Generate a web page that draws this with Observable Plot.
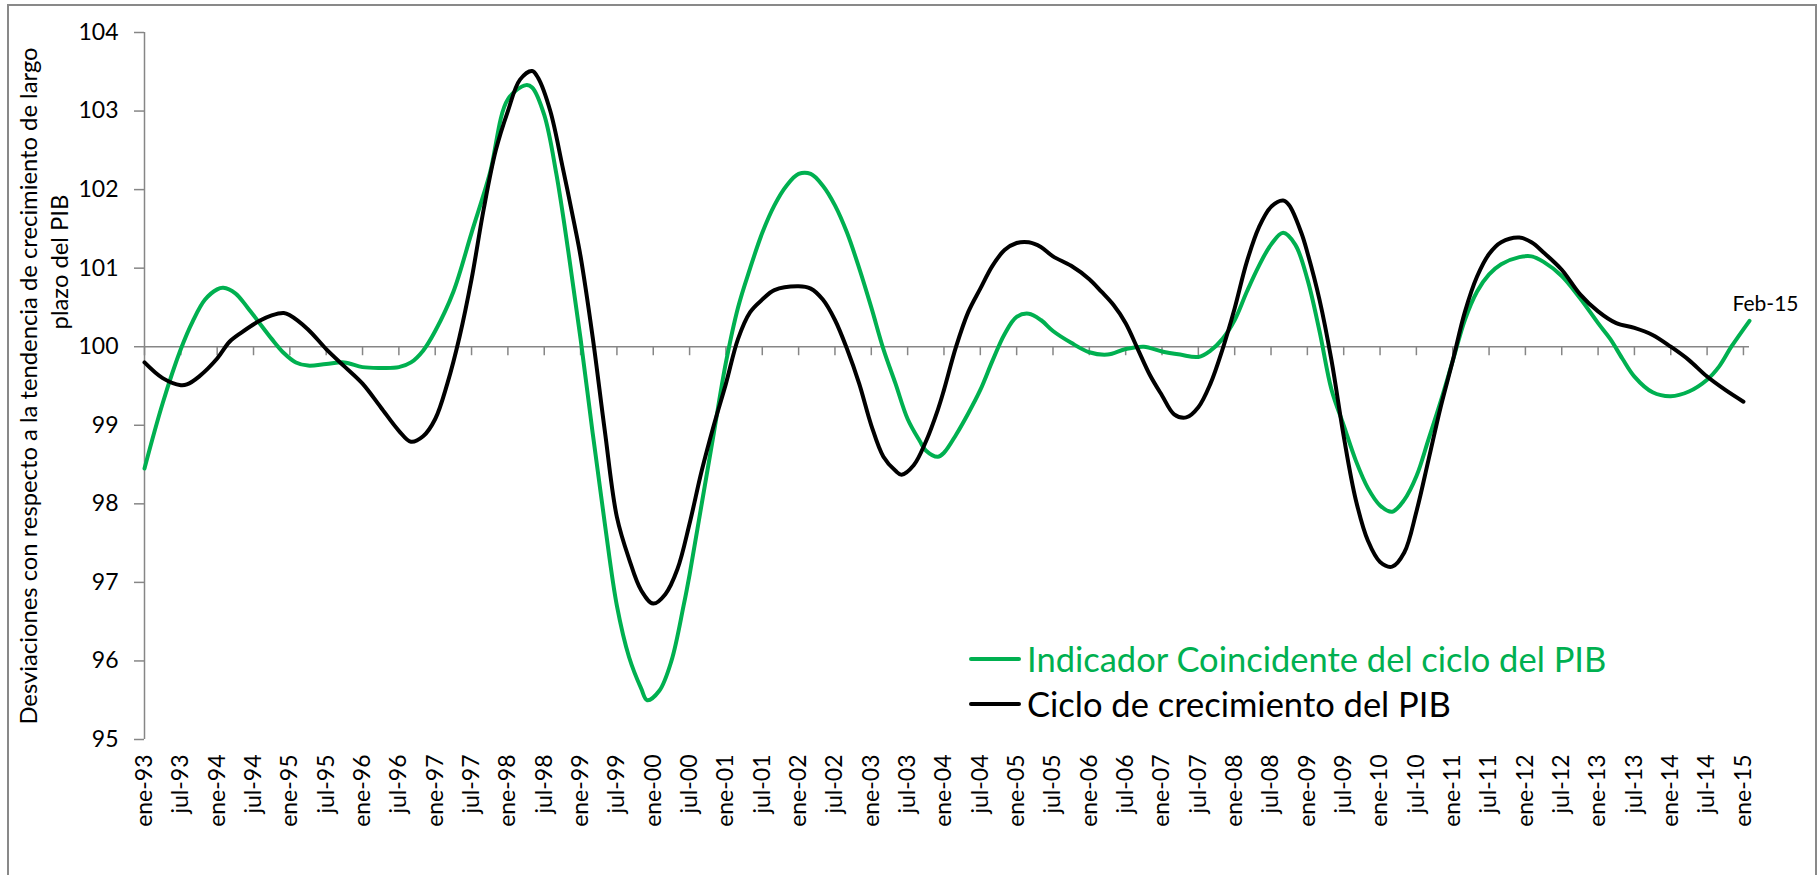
<!DOCTYPE html>
<html>
<head>
<meta charset="utf-8">
<script src="https://cdn.jsdelivr.net/npm/d3@7"></script>
<script src="https://cdn.jsdelivr.net/npm/@observablehq/plot@0.6"></script>
<style>
  html, body { margin: 0; padding: 0; background: #fff; }
  #wrap { position: relative; width: 1819px; height: 875px; overflow: hidden; font-family: Lato, "Open Sans", sans-serif; }
  #frame { position: absolute; left: 7px; top: 4px; width: 1810px; height: 900px; border: 2px solid #898989; box-sizing: border-box; pointer-events: none; }
  #chart { position: absolute; left: 0; top: 0; }
  .ytitle { position: absolute; white-space: nowrap; transform: translate(-50%, -50%) rotate(-90deg); font-size: 23.8px; color: #000; line-height: 1; }
  .legline { position: absolute; height: 4px; border-radius: 2px; }
  .legtext { position: absolute; white-space: nowrap; transform: translateY(-50%); font-size: 34.5px; line-height: 1; }
</style>
</head>
<body>
<div id="wrap">
  <div id="chart"></div>
  <div id="frame"></div>
</div>
<script>
// Months counted from ene-93 (0 = January 1993)
const greenMonths = [0,3,6,8,10,12,13,15,17,19,21,23,25,27,30,33,36,39,42,44,46,48,51,54,57,60,63,64,66,68,70,72,74,76,78,80,82,83,85,87,89,90,92,94,96,98,100,102,104,106,108,110,112,114,116,118,120,122,124,126,128,129,131,132,134,136,138,140,142,144,146,148,150,153,156,159,162,165,168,171,174,176,178,180,182,184,186,188,190,192,194,196,198,200,202,204,206,208,210,212,214,216,218,220,222,224,227,229,231,234,237,240,242,244,246,249,252,255,258,260,262,265];
const greenValues = [98.45,99.28,99.97,100.33,100.6,100.73,100.75,100.68,100.5,100.3,100.1,99.92,99.8,99.76,99.78,99.8,99.74,99.73,99.74,99.8,99.95,100.2,100.7,101.45,102.2,103.15,103.33,103.3,102.95,102.2,101.2,100.1,98.9,97.75,96.7,96.05,95.65,95.5,95.62,96.0,96.7,97.1,98.0,98.9,99.8,100.5,101.0,101.45,101.8,102.05,102.2,102.2,102.05,101.8,101.45,101.0,100.5,99.97,99.53,99.08,98.8,98.68,98.6,98.65,98.88,99.15,99.45,99.82,100.16,100.38,100.42,100.34,100.2,100.05,99.93,99.9,99.97,100.0,99.94,99.9,99.87,99.95,100.1,100.34,100.7,101.03,101.3,101.45,101.3,100.86,100.2,99.45,99.0,98.55,98.2,97.98,97.9,98.05,98.35,98.82,99.3,99.82,100.34,100.7,100.92,101.05,101.14,101.15,101.08,100.9,100.62,100.3,100.1,99.85,99.62,99.42,99.37,99.43,99.58,99.75,100.0,100.33];

const blackMonths = [0,3,6,7,9,12,14,16,19,21,23,24,27,30,33,36,39,42,44,46,48,50,52,54,56,58,60,62,64,65,67,69,71,72,74,76,78,80,82,84,86,88,90,92,94,96,98,100,102,104,108,110,112,114,116,118,120,122,124,125,127,129,131,132,134,136,138,140,142,144,146,148,150,153,156,158,160,162,164,166,168,170,172,174,176,178,180,182,184,186,188,189,191,192,194,196,198,200,202,204,206,208,210,212,214,216,218,220,222,224,227,229,231,234,237,240,243,246,249,252,255,258,261,264];
const blackValues = [99.8,99.6,99.51,99.52,99.62,99.85,100.06,100.18,100.33,100.4,100.43,100.4,100.22,99.97,99.75,99.53,99.23,98.93,98.79,98.86,99.08,99.53,100.12,100.86,101.75,102.5,103.0,103.4,103.51,103.42,103.0,102.3,101.55,101.15,100.12,98.93,97.83,97.3,96.9,96.73,96.85,97.17,97.75,98.42,99.0,99.53,100.1,100.44,100.6,100.72,100.77,100.74,100.6,100.34,99.97,99.53,99.0,98.6,98.42,98.37,98.49,98.79,99.2,99.45,100.0,100.44,100.74,101.03,101.23,101.32,101.33,101.27,101.15,101.03,100.86,100.7,100.53,100.3,99.97,99.64,99.38,99.14,99.1,99.23,99.53,99.97,100.49,101.08,101.52,101.78,101.86,101.8,101.45,101.2,100.6,99.82,98.86,98.05,97.53,97.26,97.2,97.38,97.9,98.56,99.23,99.82,100.44,100.89,101.18,101.33,101.39,101.33,101.2,100.98,100.67,100.45,100.3,100.24,100.15,100.0,99.83,99.62,99.45,99.3];

const tickLabels = ["ene-93","jul-93","ene-94","jul-94","ene-95","jul-95","ene-96","jul-96","ene-97","jul-97","ene-98","jul-98","ene-99","jul-99","ene-00","jul-00","ene-01","jul-01","ene-02","jul-02","ene-03","jul-03","ene-04","jul-04","ene-05","jul-05","ene-06","jul-06","ene-07","jul-07","ene-08","jul-08","ene-09","jul-09","ene-10","jul-10","ene-11","jul-11","ene-12","jul-12","ene-13","jul-13","ene-14","jul-14","ene-15"];
const tickMonths = tickLabels.map((_, i) => i * 6);
const yTicks = [95, 96, 97, 98, 99, 100, 101, 102, 103, 104];

const seriesNames = ["Indicador Coincidente del ciclo del PIB", "Ciclo de crecimiento del PIB"];
const seriesColors = ["#00B050", "#000000"];
const yTitleLines = ["Desviaciones con respecto a la tendencia de crecimiento de largo", "plazo del PIB"];
const endLabel = "Feb-15";

const green = greenMonths.map((m, i) => ({m, v: greenValues[i]}));
const black = blackMonths.map((m, i) => ({m, v: blackValues[i]}));
const axisGray = "#868686";

const chart = Plot.plot({
  width: 1819,
  height: 875,
  marginLeft: 144,
  marginRight: 70,
  marginTop: 32,
  marginBottom: 136,
  style: {fontFamily: "Lato, 'Open Sans', sans-serif", background: "transparent", color: "#000"},
  x: {type: "linear", domain: [0, 265]},
  y: {domain: [95, 104]},
  marks: [
    Plot.ruleX([0], {stroke: axisGray, strokeWidth: 1.5}),
    Plot.ruleY([100], {stroke: axisGray, strokeWidth: 1.5}),
    Plot.ruleX(tickMonths, {y1: 100, y2: 100, insetBottom: -9, stroke: axisGray, strokeWidth: 1.5}),
    Plot.axisY({ticks: yTicks, label: null, tickSize: 10, tickPadding: 16, fontSize: 23, stroke: axisGray, strokeWidth: 1.5, fill: "#000", tickFormat: d => String(d)}),
    Plot.axisX({ticks: tickMonths, label: null, tickFormat: d => tickLabels[tickMonths.indexOf(d)], tickRotate: -90, tickSize: 0, tickPadding: 15, fontSize: 23, fill: "#000"}),
    Plot.line(green, {x: "m", y: "v", stroke: seriesColors[0], strokeWidth: 4, curve: "catmull-rom", strokeLinecap: "round", strokeLinejoin: "round"}),
    Plot.line(black, {x: "m", y: "v", stroke: seriesColors[1], strokeWidth: 4, curve: "catmull-rom", strokeLinecap: "round", strokeLinejoin: "round"}),
    Plot.text([green[green.length - 1]], {x: "m", y: "v", text: () => endLabel, dx: 16, dy: -17, fontSize: 21, fill: "#000"})
  ]
});
document.getElementById("chart").appendChild(chart);

const wrap = document.getElementById("wrap");
// y-axis title (two lines)
const t1 = document.createElement("div");
t1.className = "ytitle"; t1.textContent = yTitleLines[0];
t1.style.left = "29px"; t1.style.top = "386px";
wrap.appendChild(t1);
const t2 = document.createElement("div");
t2.className = "ytitle"; t2.textContent = yTitleLines[1];
t2.style.left = "60px"; t2.style.top = "262px";
wrap.appendChild(t2);

// legend
const legTops = [659, 704];
seriesNames.forEach((name, i) => {
  const ln = document.createElement("div");
  ln.className = "legline";
  ln.style.left = "969px"; ln.style.width = "52px";
  ln.style.top = (legTops[i] - 2) + "px";
  ln.style.background = seriesColors[i];
  wrap.appendChild(ln);
  const tx = document.createElement("div");
  tx.className = "legtext";
  tx.textContent = name;
  tx.style.left = "1027px";
  tx.style.top = legTops[i] + "px";
  tx.style.color = seriesColors[i];
  wrap.appendChild(tx);
});
</script>
</body>
</html>
